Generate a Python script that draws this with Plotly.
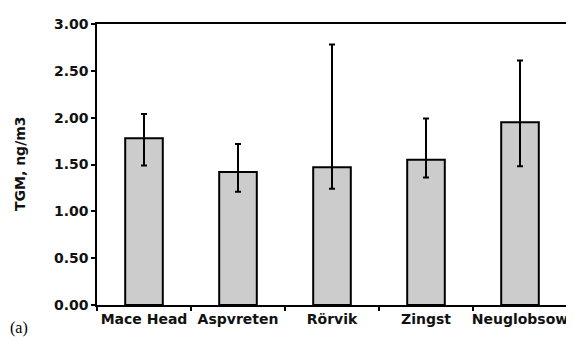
import plotly.graph_objects as go

sites = ["Mace Head", "Aspvreten", "Rörvik", "Zingst", "Neuglobsow"]
tgm = [1.78, 1.42, 1.47, 1.55, 1.95]
err_plus = [0.26, 0.30, 1.31, 0.44, 0.66]
err_minus = [0.29, 0.21, 0.23, 0.19, 0.47]
y_ticks = [0.0, 0.5, 1.0, 1.5, 2.0, 2.5, 3.0]
y_tick_text = ["0.00", "0.50", "1.00", "1.50", "2.00", "2.50", "3.00"]

font = "DejaVu Sans, Arial, sans-serif"

fig = go.Figure()
fig.add_trace(go.Bar(
    x=sites, y=tgm,
    width=0.4,
    marker=dict(color="#cccccc", line=dict(color="black", width=2)),
    error_y=dict(type="data", symmetric=False, array=err_plus, arrayminus=err_minus,
                 color="black", thickness=2, width=3),
))

fig.update_layout(
    width=566, height=329,
    margin=dict(l=89, r=7, t=16, b=32, autoexpand=False),
    plot_bgcolor="white", paper_bgcolor="white",
    showlegend=False,
    font=dict(family=font, size=14, color="black"),
    xaxis=dict(
        type="category", showline=True, linecolor="black", linewidth=1.5, mirror=True,
        ticks="outside", tickson="boundaries", ticklen=4, tickcolor="black", tickwidth=1.5,
        tickfont=dict(family=font, size=14, color="#111"), tickangle=0,
        tickprefix="<b>", ticksuffix="</b>",
        showgrid=False,
    ),
    yaxis=dict(
        range=[0, 3], tickvals=y_ticks, ticktext=["<b>" + t + "</b>" for t in y_tick_text],
        showline=True, linecolor="black", linewidth=1.5, mirror=True,
        ticks="outside", ticklen=4, tickcolor="black", tickwidth=1.5,
        tickfont=dict(family=font, size=14, color="#111"),
        showgrid=False, zeroline=False,
    ),
)
fig.add_annotation(text="<b>TGM, ng/m3</b>", xref="paper", yref="paper", x=-0.164, y=0.505,
                   xanchor="center", yanchor="middle", textangle=-90, showarrow=False,
                   font=dict(family=font, size=14, color="#111"))
fig.add_annotation(text="(a)", xref="paper", yref="paper", x=-0.189, y=-0.043,
                   xanchor="left", yanchor="top", showarrow=False,
                   font=dict(family="Liberation Serif, Times New Roman, serif", size=16, color="black"))
fig.write_html("out.html")
